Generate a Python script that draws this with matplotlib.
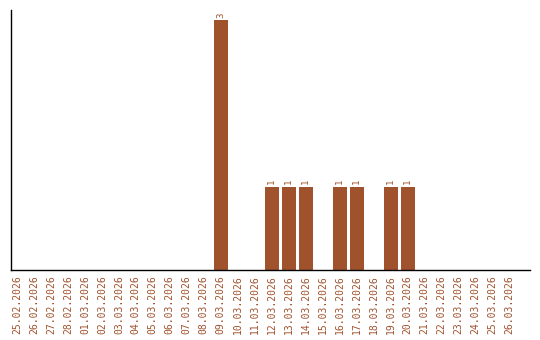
import matplotlib
matplotlib.use("Agg")
import matplotlib.pyplot as plt

dates = ["25.02.2026", "26.02.2026", "27.02.2026", "28.02.2026", "01.03.2026",
         "02.03.2026", "03.03.2026", "04.03.2026", "05.03.2026", "06.03.2026",
         "07.03.2026", "08.03.2026", "09.03.2026", "10.03.2026", "11.03.2026",
         "12.03.2026", "13.03.2026", "14.03.2026", "15.03.2026", "16.03.2026",
         "17.03.2026", "18.03.2026", "19.03.2026", "20.03.2026", "21.03.2026",
         "22.03.2026", "23.03.2026", "24.03.2026", "25.03.2026", "26.03.2026"]
counts = [0, 0, 0, 0, 0, 0, 0, 0, 0, 0, 0, 0, 3, 0, 0, 1, 1, 1, 0, 1, 1, 0, 1, 1,
          0, 0, 0, 0, 0, 0]

color = "#A0522D"
fig = plt.figure(figsize=(5.4, 3.4), dpi=100)
ax = fig.add_axes([11/540, 70/340, 519/540, 260/340])
x = list(range(len(dates)))
ax.bar(x, counts, width=0.82, color=color)
for xi, c in zip(x, counts):
    if c > 0:
        ax.text(xi, c + 0.03, str(c), rotation=90, ha="center", va="bottom",
                color=color, fontsize=6.5, family="DejaVu Sans Mono")
ax.set_xlim(-0.35, 30.2)
ax.set_ylim(0, 3.12)
ax.set_xticks(x)
ax.set_xticklabels(dates, rotation=90, color=color, fontsize=7, family="DejaVu Sans Mono")
ax.tick_params(axis="x", length=0, pad=4)
ax.set_yticks([])
for s in ["top", "right"]:
    ax.spines[s].set_visible(False)
for s in ["left", "bottom"]:
    ax.spines[s].set_color("black")
    ax.spines[s].set_linewidth(1)
fig.savefig("out.png", dpi=100)
